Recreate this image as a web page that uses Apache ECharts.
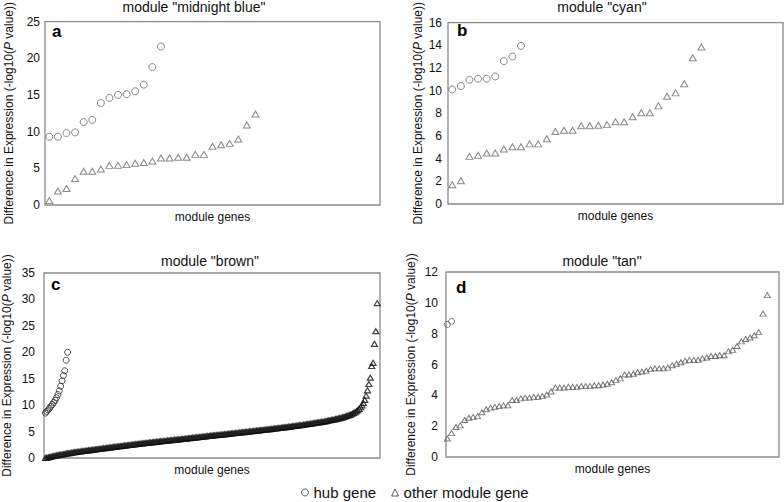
<!DOCTYPE html>
<html>
<head>
<meta charset="utf-8">
<script src="https://cdn.jsdelivr.net/npm/echarts@6/dist/echarts.min.js"></script>
<style>
html,body{margin:0;padding:0;background:#fff;}
#chart{width:784px;height:502px;}
</style>
</head>
<body>
<div id="chart"></div>
<script>
// ---------- data ----------
const panelTitles = ['module "midnight blue"', 'module "cyan"', 'module "brown"', 'module "tan"'];
const panelLetters = ['a', 'b', 'c', 'd'];
const xAxisName = 'module genes';
const yAxisName = 'Difference in Expression (-log10({p|P} value))';
const legendNames = ['hub gene', 'other module gene'];
const yMax = [25, 16, 35, 12];
const yStep = [5, 2, 5, 2];

const hubA = [9.3, 9.3, 9.8, 9.9, 11.3, 11.6, 13.9, 14.6, 15.0, 15.1, 15.5, 16.4, 18.8, 21.6];
const otherA = [0.6, 1.9, 2.25, 3.6, 4.6, 4.6, 4.9, 5.4, 5.4, 5.5, 5.7, 5.8, 6.0, 6.4, 6.4, 6.5, 6.5, 6.9, 6.9, 8.0, 8.2, 8.4, 9.0, 10.9, 12.4];

const hubB = [10.1, 10.4, 10.95, 11.05, 11.05, 11.25, 12.6, 13.0, 13.95];
const otherB = [1.7, 2.05, 4.2, 4.3, 4.5, 4.5, 4.85, 5.05, 5.05, 5.3, 5.3, 5.75, 6.4, 6.5, 6.5, 6.9, 6.9, 6.95, 7.0, 7.25, 7.25, 7.7, 8.05, 8.05, 8.65, 9.5, 9.8, 10.6, 12.9, 13.85];

const hubC = [8.5, 8.8, 9.1, 9.4, 9.8, 10.1, 10.5, 10.9, 11.4, 12.0, 12.7, 13.6, 14.6, 15.6, 16.5, 18.5, 20.0];
const otherC = [
  0.00,0.05,0.12,0.18,0.26,0.33,0.38,0.44,0.49,0.55,0.61,0.64,0.69,0.73,0.78,0.84,0.88,0.92,0.97,1.02,
  1.06,1.10,1.13,1.17,1.20,1.24,1.27,1.31,1.34,1.38,1.42,1.45,1.48,1.52,1.55,1.58,1.62,1.65,1.69,1.72,
  1.76,1.80,1.83,1.86,1.90,1.93,1.97,2.00,2.04,2.07,2.11,2.14,2.18,2.21,2.24,2.28,2.31,2.35,2.38,2.42,
  2.45,2.48,2.52,2.55,2.58,2.61,2.64,2.67,2.70,2.73,2.77,2.80,2.83,2.86,2.89,2.92,2.95,2.98,3.01,3.04,
  3.07,3.10,3.13,3.16,3.19,3.21,3.24,3.27,3.30,3.32,3.35,3.38,3.41,3.44,3.46,3.49,3.52,3.55,3.58,3.61,
  3.64,3.67,3.70,3.73,3.76,3.79,3.82,3.85,3.88,3.91,3.94,3.97,4.00,4.03,4.06,4.09,4.12,4.15,4.18,4.21,
  4.24,4.27,4.30,4.33,4.35,4.38,4.41,4.44,4.47,4.50,4.52,4.55,4.58,4.61,4.64,4.67,4.70,4.72,4.75,4.78,
  4.81,4.84,4.87,4.90,4.93,4.96,4.99,5.02,5.05,5.08,5.11,5.14,5.17,5.20,5.23,5.26,5.29,5.32,5.35,5.38,
  5.41,5.44,5.47,5.50,5.54,5.57,5.60,5.63,5.67,5.70,5.73,5.77,5.80,5.83,5.87,5.90,5.94,5.97,6.01,6.04,
  6.08,6.11,6.15,6.19,6.22,6.26,6.30,6.34,6.38,6.42,6.46,6.50,6.54,6.58,6.62,6.66,6.70,6.75,6.79,6.84,
  6.88,6.93,6.98,7.03,7.08,7.13,7.18,7.24,7.30,7.36,7.42,7.48,7.55,7.62,7.69,7.77,7.85,7.94,8.03,8.13,
  8.24,8.36,8.50,8.66,8.84,9.05,9.30,9.60,9.96,10.4,11.0,11.8,12.8,14.0,15.2,17.4,18.0,21.6,24.0,29.3
];

const hubD = [8.6, 8.8];
const otherD = [
  1.2, 1.55, 1.95, 2.05, 2.4, 2.55, 2.6, 2.65, 2.9, 3.1, 3.2, 3.25, 3.3, 3.35, 3.35,
  3.7, 3.7, 3.8, 3.85, 3.85, 3.9, 3.9, 3.95, 4.05, 4.25,
  4.5, 4.5, 4.5, 4.55, 4.55, 4.55, 4.6, 4.6, 4.6, 4.65, 4.65, 4.7, 4.75, 4.85, 5.0, 5.1,
  5.35, 5.35, 5.4, 5.5, 5.55, 5.6, 5.7, 5.75, 5.75, 5.75, 5.8, 5.95, 6.05, 6.15, 6.25, 6.3, 6.3, 6.3, 6.4, 6.45, 6.55, 6.55, 6.6, 6.6, 6.85, 6.95,
  7.2, 7.5, 7.65, 7.75, 7.9, 8.1,
  9.3, 10.5
];

// ---------- layout / style ----------
const FONT = 'Liberation Sans, Arial, Helvetica, sans-serif';
const TXT = '#111';
const panels = [
  {hub: hubA, other: otherA, grid: {left: 45, top: 20, width: 335, height: 185}, xMin: -0.5, xMax: 38.5, labelMargin: 5, nameGap: 30, titleX: 194, titleY: 7, letterX: 52, letterY: 31, sz: 7, hc: '#6a6a6a', tc: '#6a6a6a', tw: 1},
  {hub: hubB, other: otherB, grid: {left: 448, top: 19, width: 335, height: 185}, xMin: -0.5, xMax: 38.5, labelMargin: 6, nameGap: 24, titleX: 602, titleY: 7, letterX: 457, letterY: 30, sz: 7, hc: '#6a6a6a', tc: '#6a6a6a', tw: 1},
  {hub: hubC, other: otherC, grid: {left: 43, top: 273, width: 337, height: 185}, xMin: -1, xMax: 241, labelMargin: 9, nameGap: 31, titleX: 210, titleY: 261, letterX: 51, letterY: 284, sz: 6, hc: '#262626', tc: '#111', tw: 1.2},
  {hub: hubD, other: otherD, grid: {left: 446, top: 272, width: 333, height: 185}, xMin: -0.3, xMax: 76.7, labelMargin: 8, nameGap: 29, titleX: 602, titleY: 261, letterX: 456, letterY: 287, sz: 6, hc: '#5a5a5a', tc: '#5a5a5a', tw: 1}
];

const grids = [], xAxes = [], yAxes = [], series = [], graphics = [];
panels.forEach((p, i) => {
  grids.push(Object.assign({show: true, borderColor: '#8a8a8a', borderWidth: 1.3, backgroundColor: '#fff'}, p.grid));
  xAxes.push({
    type: 'value', gridIndex: i, min: p.xMin, max: p.xMax,
    name: xAxisName, nameLocation: 'middle', nameGap: 6,
    nameTextStyle: {fontFamily: FONT, fontSize: 12, color: TXT},
    axisLine: {show: false}, axisTick: {show: false}, axisLabel: {show: false}, splitLine: {show: false}
  });
  yAxes.push({
    type: 'value', gridIndex: i, min: 0, max: yMax[i], interval: yStep[i],
    name: yAxisName, nameLocation: 'middle', nameGap: p.nameGap,
    nameTextStyle: {fontFamily: FONT, fontSize: 12, color: TXT, rich: {p: {fontFamily: FONT, fontSize: 12, fontStyle: 'italic', color: TXT}}},
    axisLine: {show: false}, axisTick: {show: false}, splitLine: {show: false},
    axisLabel: {fontFamily: FONT, fontSize: 12, color: TXT, margin: p.labelMargin}
  });
  series.push({
    name: legendNames[0], type: 'scatter', xAxisIndex: i, yAxisIndex: i,
    symbol: 'circle', symbolSize: p.sz,
    itemStyle: {color: 'rgba(0,0,0,0)', borderColor: p.hc, borderWidth: 1},
    emphasis: {disabled: true}, silent: true,
    data: p.hub.map((v, k) => [k, v])
  });
  series.push({
    name: legendNames[1], type: 'scatter', xAxisIndex: i, yAxisIndex: i,
    symbol: 'triangle', symbolSize: [p.sz, p.sz - 1],
    itemStyle: {color: 'rgba(0,0,0,0)', borderColor: p.tc, borderWidth: p.tw},
    emphasis: {disabled: true}, silent: true,
    data: p.other.map((v, k) => [k, v])
  });
  graphics.push({type: 'text', x: p.titleX, y: p.titleY, silent: true,
    style: {text: panelTitles[i], font: '14px ' + FONT, fill: TXT, textAlign: 'center', textVerticalAlign: 'middle'}});
  graphics.push({type: 'text', x: p.letterX, y: p.letterY, silent: true,
    style: {text: panelLetters[i], font: 'bold 17px ' + FONT, fill: '#000', textAlign: 'left', textVerticalAlign: 'middle'}});
});

const chart = echarts.init(document.getElementById('chart'), null, {renderer: 'svg'});
chart.setOption({
  animation: false,
  backgroundColor: '#fff',
  grid: grids, xAxis: xAxes, yAxis: yAxes, series: series,
  graphic: graphics,
  legend: {
    left: 301, top: 485, padding: 0, itemWidth: 7, itemHeight: 7, itemGap: 15, selectedMode: false,
    textStyle: {fontFamily: FONT, fontSize: 15, color: TXT},
    data: [
      {name: legendNames[0], icon: 'circle', itemStyle: {color: 'rgba(0,0,0,0)', borderColor: '#333', borderWidth: 1}},
      {name: legendNames[1], icon: 'triangle', itemStyle: {color: 'rgba(0,0,0,0)', borderColor: '#333', borderWidth: 1}}
    ]
  }
});
</script>
</body>
</html>
